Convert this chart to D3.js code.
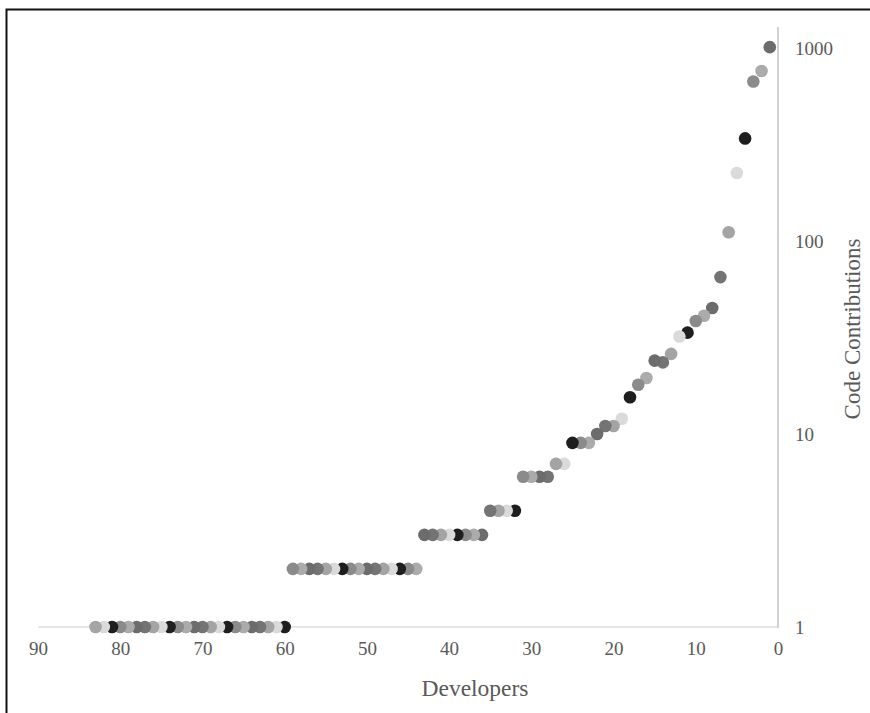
<!DOCTYPE html>
<head>
    <meta charset="utf-8">
    <title>Code contributions per developer</title>
    <style>
        body { margin: 0; background: #fff; }
        text { font-family: "Liberation Serif", "DejaVu Serif", serif; fill: #595959; }
    </style>
</head>

<body>

<svg width="870" height="713"></svg>

<script src="https://d3js.org/d3.v7.min.js"></script>

<script>

    // contributions per developer, ranked 1..83
    var contributions = [
        1010, 760, 670, 340, 225, 111, 65, 45, 41, 38.5,
        33.5, 32, 26, 23.5, 24, 19.5, 18, 15.5, 12, 11,
        11, 10, 9, 9, 9, 7, 7, 6, 6, 6,
        6, 4, 4, 4, 4, 3, 3, 3, 3, 3,
        3, 3, 3, 2, 2, 2, 2, 2, 2, 2,
        2, 2, 2, 2, 2, 2, 2, 2, 2, 1,
        1, 1, 1, 1, 1, 1, 1, 1, 1, 1,
        1, 1, 1, 1, 1, 1, 1, 1, 1, 1,
        1, 1, 1
    ];

    var xTicks = [90, 80, 70, 60, 50, 40, 30, 20, 10, 0];
    var yTicks = [1, 10, 100, 1000];

    // grey shades repeat every 7 points (index = rank % 7)
    var greys = ["#747474", "#6c6c6c", "#ababab", "#8b8b8b", "#1e1e1e", "#dadada", "#a4a4a4"];

    var data = contributions.map(function(v, i) { return {rank: i + 1, value: v}; });

    var svg = d3.select("svg");

    // outer frame (runs off the right and bottom edges)
    svg.append("rect")
        .attr("x", 6.5).attr("y", 9.5)
        .attr("width", 900).attr("height", 740)
        .attr("fill", "none")
        .attr("stroke", "#111")
        .attr("stroke-width", 2);

    var x = d3.scaleLinear().domain([90, 0]).range([38, 778]),
        y = d3.scaleLog().domain([1, 1000]).range([627, 48]);

    // horizontal axis line at y = 1
    svg.append("line")
        .attr("x1", x(90)).attr("x2", x(0))
        .attr("y1", y(1)).attr("y2", y(1))
        .attr("stroke", "#e6e6e6")
        .attr("stroke-width", 2);

    // vertical axis line at x = 0
    svg.append("line")
        .attr("x1", x(0)).attr("x2", x(0))
        .attr("y1", y(1) + 1).attr("y2", 27)
        .attr("stroke", "#d0d0d0")
        .attr("stroke-width", 2);

    var xAxis = svg.append("g")
        .attr("transform", "translate(0," + y(1) + ")")
        .call(d3.axisBottom(x).tickValues(xTicks).tickSize(0).tickPadding(15).tickFormat(d3.format("d")));
    xAxis.select(".domain").remove();
    xAxis.selectAll("text").style("font-size", "19px").attr("fill", "#595959");

    var yAxis = svg.append("g")
        .attr("transform", "translate(" + x(0) + ",0)")
        .call(d3.axisRight(y).tickValues(yTicks).tickSize(0).tickPadding(17).tickFormat(d3.format("d")));
    yAxis.select(".domain").remove();
    yAxis.selectAll("text").style("font-size", "19px").attr("fill", "#595959");

    svg.selectAll(".dot")
        .data(data)
        .enter().append("circle")
        .attr("class", "dot")
        .attr("cx", function(d) { return x(d.rank); })
        .attr("cy", function(d) { return y(d.value); })
        .attr("r", 6.3)
        .attr("fill", function(d) { return greys[d.rank % 7]; });

    svg.append("text")
        .attr("x", 475).attr("y", 696)
        .attr("text-anchor", "middle")
        .style("font-size", "23.5px")
        .text("Developers");

    svg.append("text")
        .attr("transform", "translate(860,329) rotate(-90)")
        .attr("text-anchor", "middle")
        .style("font-size", "23px")
        .text("Code Contributions");

</script>

</body>
